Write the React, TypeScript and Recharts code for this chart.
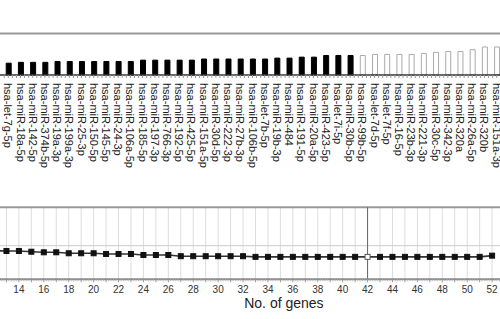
import React from 'react';
import {
  BarChart,
  Bar,
  XAxis,
  YAxis,
  ReferenceLine,
  Cell,
  LineChart,
  Line,
  CartesianGrid,
  Label,
} from 'recharts';

// ---------- Top panel: miRNA ranking ----------
const mirnas = [
  'hsa-let-7g-5p', 'hsa-miR-18a-5p', 'hsa-miR-142-5p', 'hsa-miR-374b-5p', 'hsa-miR-19a-3p',
  'hsa-miR-199a-3p', 'hsa-miR-25-3p', 'hsa-miR-150-5p', 'hsa-miR-145-5p', 'hsa-miR-24-3p',
  'hsa-miR-106a-5p', 'hsa-miR-185-5p', 'hsa-miR-197-3p', 'hsa-miR-766-3p', 'hsa-miR-192-5p',
  'hsa-miR-425-5p', 'hsa-miR-151a-5p', 'hsa-miR-30d-5p', 'hsa-miR-222-3p', 'hsa-miR-27b-3p',
  'hsa-miR-106b-5p', 'hsa-let-7b-5p', 'hsa-miR-19b-3p', 'hsa-miR-484', 'hsa-miR-191-5p',
  'hsa-miR-20a-5p', 'hsa-miR-423-5p', 'hsa-let-7i-5p', 'hsa-miR-30b-5p', 'hsa-miR-99b-5p',
  'hsa-let-7d-5p', 'hsa-let-7f-5p', 'hsa-miR-16-5p', 'hsa-miR-23b-3p', 'hsa-miR-221-3p',
  'hsa-miR-30c-5p', 'hsa-miR-342-3p', 'hsa-miR-320a', 'hsa-miR-26a-5p', 'hsa-miR-320b',
  'hsa-miR-151a-3p',
];

const importance = [
  28.5, 30.5, 30.5, 30.5, 32.5, 32.5, 32.5, 32.5, 32.5, 32.5,
  32.5, 35.8, 35.8, 35.8, 35.8, 35.8, 38.5, 38.5, 38.5, 38.5,
  38.5, 38.5, 40.7, 40.7, 43, 43, 47, 47, 47, 47,
  49.6, 49.6, 49.6, 49.6, 52, 54.5, 56.5, 56.5, 61, 67.5,
  67.5,
];

const selectedCount = 29;

// ---------- Bottom panel: error vs number of genes ----------
const geneCounts = [
  12, 13, 14, 15, 16, 17, 18, 19, 20, 21, 22, 23, 24, 25, 26, 27, 28, 29, 30, 31, 32,
  33, 34, 35, 36, 37, 38, 39, 40, 41, 42, 43, 44, 45, 46, 47, 48, 49, 50, 51, 52,
];

const errorRates = [
  0.238, 0.236, 0.236, 0.23, 0.225, 0.225, 0.217, 0.217, 0.217, 0.211, 0.211,
  0.211, 0.2025, 0.2025, 0.2025, 0.1925, 0.1925, 0.1925, 0.1925, 0.1925, 0.1925,
  0.187, 0.187, 0.187, 0.187, 0.187, 0.187, 0.187, 0.187, 0.187, 0.187,
  0.187, 0.187, 0.187, 0.187, 0.187, 0.187, 0.187, 0.187, 0.187, 0.197,
];

const geneTicks = [
  12, 13, 14, 15, 16, 17, 18, 19, 20, 21, 22, 23, 24, 25, 26, 27, 28, 29, 30, 31, 32, 33,
  34, 35, 36, 37, 38, 39, 40, 41, 42, 43, 44, 45, 46, 47, 48, 49, 50, 51, 52, 53, 54,
];

const optimalGenes = 42;
const errorGridValue = 0.28;

const topData = mirnas.map((name, i) => ({
  name,
  value: importance[i],
  selected: i < selectedCount,
}));

const lineData = geneCounts.map((g, i) => ({ genes: g, error: errorRates[i] }));

const FONT = '"Liberation Sans", Arial, Helvetica, sans-serif';

const TOP_W = 520;
const TOP_PAD_L = 2.2;
const TOP_PAD_R = 17.2;
const BAND = (TOP_W - TOP_PAD_L - TOP_PAD_R) / mirnas.length;

const BOT_W = 523;
const BOT_DOMAIN: [number, number] = [12, 54];
const UNIT = BOT_W / (BOT_DOMAIN[1] - BOT_DOMAIN[0]);

const MiTick = (props: any) => {
  const { x, y, payload } = props;
  const b = BAND / 3;
  return (
    <g>
      {[-b, 0, b].map((o) => (
        <line key={o} x1={x + o} x2={x + o} y1={y} y2={y + 3} stroke="#999" strokeWidth={1} />
      ))}
      <text
        x={x}
        y={y + 8}
        transform={`rotate(90, ${x}, ${y + 8})`}
        textAnchor="start"
        dominantBaseline="central"
        fontSize={11}
        fill="#222"
        fontFamily={FONT}
      >
        {payload.value}
      </text>
    </g>
  );
};

const GeneTick = (props: any) => {
  const { x, y, payload } = props;
  const minors = [1, 2, 3, 4].map((k) => x + (k * UNIT) / 5);
  return (
    <g>
      <line x1={x} x2={x} y1={y} y2={y + 3} stroke="#999" strokeWidth={1} />
      {minors.map((mx, i) => (
        <line key={i} x1={mx} x2={mx} y1={y} y2={y + 2} stroke="#bbb" strokeWidth={0.8} />
      ))}
      {payload.value % 2 === 0 ? (
        <text
          x={x}
          y={y + 10.5}
          textAnchor="middle"
          dominantBaseline="central"
          fontSize={10}
          fill="#333"
          fontFamily={FONT}
        >
          {payload.value}
        </text>
      ) : null}
    </g>
  );
};

const SquareDot = (props: any) => {
  const { cx, cy, payload } = props;
  if (cx == null || cy == null) return null;
  const hollow = payload.genes === optimalGenes;
  return (
    <rect
      x={cx - 2.5}
      y={cy - 2.5}
      width={5}
      height={5}
      fill={hollow ? '#fff' : '#111'}
      stroke={hollow ? '#555' : '#111'}
      strokeWidth={1}
    />
  );
};

export default function App() {
  return (
    <div
      style={{
        position: 'absolute',
        left: 0,
        top: 0,
        width: 500,
        height: 319,
        overflow: 'hidden',
        background: '#fff',
        fontFamily: FONT,
      }}
    >
      <div style={{ position: 'absolute', left: 0, top: 0 }}>
        <BarChart
          width={TOP_W}
          height={200}
          data={topData}
          margin={{ top: 33.5, right: 0, bottom: 0, left: 0 }}
          barCategoryGap={0}
        >
          <XAxis
            dataKey="name"
            interval={0}
            height={125}
            padding={{ left: TOP_PAD_L, right: TOP_PAD_R }}
            axisLine={{ stroke: '#333', strokeWidth: 1.6 }}
            tickLine={false}
            tickSize={0}
            tickMargin={0}
            tick={MiTick}
          />
          <YAxis hide domain={[0, 100]} />
          <ReferenceLine y={100} stroke="#999" strokeWidth={2} />
          <Bar dataKey="value" barSize={5} isAnimationActive={false}>
            {topData.map((d, i) => (
              <Cell
                key={i}
                fill={d.selected ? '#000' : '#fff'}
                stroke={d.selected ? '#000' : '#aaa'}
                strokeWidth={1}
              />
            ))}
          </Bar>
        </BarChart>
      </div>
      <div style={{ position: 'absolute', left: -5.9, top: 0 }}>
        <LineChart
          width={BOT_W}
          height={319}
          data={lineData}
          margin={{ top: 207.3, right: 0, bottom: 0, left: 0 }}
        >
          <CartesianGrid horizontal={false} vertical stroke="#ddd" />
          <XAxis
            dataKey="genes"
            type="number"
            domain={BOT_DOMAIN}
            ticks={geneTicks}
            interval={0}
            allowDataOverflow
            height={39.7}
            axisLine={{ stroke: '#888', strokeWidth: 2 }}
            tickLine={false}
            tickSize={0}
            tickMargin={0}
            tick={GeneTick}
          >
            <Label
              value="No. of genes"
              position="insideBottom"
              offset={11}
              dx={28.4}
              fontSize={14}
              fill="#222"
              fontFamily={FONT}
            />
          </XAxis>
          <YAxis hide domain={[0, 0.6]} />
          <ReferenceLine y={0.6} stroke="#999" strokeWidth={2} />
          <ReferenceLine y={errorGridValue} stroke="#ccc" strokeWidth={1} />
          <ReferenceLine x={optimalGenes} stroke="#666" strokeWidth={1} />
          <Line
            dataKey="error"
            stroke="#333"
            strokeWidth={1.6}
            dot={SquareDot}
            isAnimationActive={false}
          />
        </LineChart>
      </div>
    </div>
  );
}
